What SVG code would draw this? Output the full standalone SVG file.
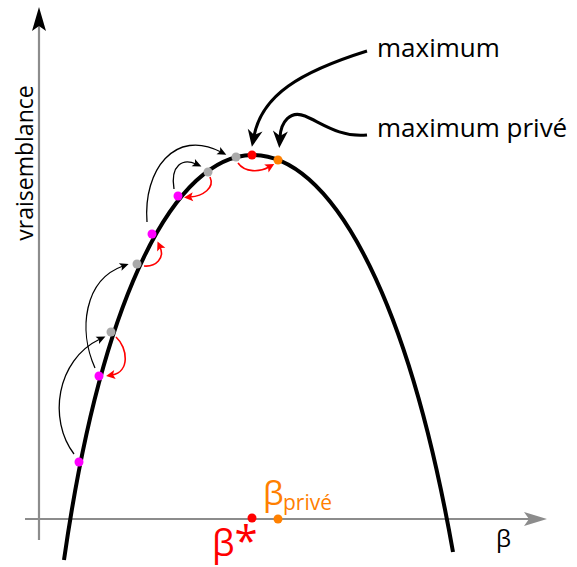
<svg xmlns="http://www.w3.org/2000/svg" width="577" height="567" viewBox="0 0 577 567">
<style>
.axis{stroke:#8c8c8c;stroke-width:2.2;fill:none}
.curve{stroke:#000;stroke-width:4;fill:none}
.hop{stroke:#000;stroke-width:1.3;fill:none;marker-end:url(#hb)}
.back{stroke:#f00;stroke-width:1.6;fill:none;marker-end:url(#hr)}
.lab{stroke:#000;stroke-width:3;fill:none;marker-end:url(#big)}
text{font-family:"Open Sans","DejaVu Sans",sans-serif}
.mag{fill:#f0f}
.gry{fill:#aaa}
</style>
<defs>
<marker id="hb" markerUnits="userSpaceOnUse" viewBox="-6 -5 14 10" markerWidth="14" markerHeight="10" refX="0" refY="0" orient="auto">
<path d="M6,0 L-3,-4 L-1,0 L-3,4 Z" fill="#000"/>
</marker>
<marker id="hr" markerUnits="userSpaceOnUse" viewBox="-6 -5 14 10" markerWidth="14" markerHeight="10" refX="0" refY="0" orient="auto">
<path d="M6,0 L-3,-4.5 L-1,0 L-3,4.5 Z" fill="#f00"/>
</marker>
<marker id="big" markerUnits="userSpaceOnUse" viewBox="-8 -9 22 18" markerWidth="22" markerHeight="18" refX="0" refY="0" orient="auto">
<path d="M11,0 L-6,-7.5 L-1,0 L-6,7.5 Z" fill="#000"/>
</marker>
</defs>
<g id="axes">
<line class="axis" x1="39" y1="540" x2="39" y2="26"/>
<path d="M39,7 L46,31 L39,26 L32,31 Z" fill="#000"/>
<line class="axis" x1="25" y1="519" x2="530" y2="519"/>
<path d="M547,519 L524,512 L529,519 L524,526 Z" fill="#8c8c8c"/>
</g>
<g id="curve">
<path class="curve" d="M64,560 C141,21.3 359,21.3 453,552"/>
</g>
<g id="connectors">
<path class="hop" d="M74,454 C48,420 56,360 100,339"/>
<path class="hop" d="M95,368 C78,330 84,280 123,266"/>
<path class="hop" d="M147,222 C143,170 175,128 221,152"/>
<path class="hop" d="M174,189 C170,165 183,158 196,164"/>
<path class="back" d="M116,337 C128,348 130,372 112,375"/>
<path class="back" d="M144,266 C156,267 165,258 160,247"/>
<path class="back" d="M210,177 C215,188 203,196 190,197"/>
<path class="back" d="M238,163 C245,173 260,172 269,167"/>
<path class="lab" d="M367,51 C300,72 262,95 254,136"/>
<path class="lab" d="M367,135 C340,138 320,122 305,116 C290,110 281,122 280,137"/>
</g>
<g id="points">
<circle class="mag" cx="79" cy="462" r="4.5"/>
<circle class="mag" cx="99" cy="376" r="4.5"/>
<circle class="gry" cx="111" cy="332" r="4.5"/>
<circle class="gry" cx="137" cy="264" r="4.5"/>
<circle class="mag" cx="152" cy="234" r="4.5"/>
<circle class="mag" cx="178" cy="196" r="4.5"/>
<circle class="gry" cx="208" cy="172" r="4.5"/>
<circle class="gry" cx="236" cy="157" r="4.5"/>
<circle cx="252" cy="155" r="4.5" fill="#f00"/>
<circle cx="278" cy="160" r="4.5" fill="#ff8000"/>
<circle cx="252" cy="518" r="4.5" fill="#f00"/>
<circle cx="278" cy="519" r="4.5" fill="#ff8000"/>
</g>
<g id="labels">
<text x="377" y="57" font-size="26" fill="#000">maximum</text>
<text x="377" y="137" font-size="26" fill="#000">maximum privé</text>
<text transform="translate(33,163) rotate(-90)" text-anchor="middle" font-size="23" fill="#000">vraisemblance</text>
<text x="496" y="547" font-size="24" fill="#000">β</text>
<text x="212" y="556" font-size="36" fill="#f00">β<tspan font-size="42">*</tspan></text>
<text x="263" y="505" font-size="33" fill="#ff8000">β<tspan x="283" y="510" font-size="21">privé</tspan></text>
</g>
</svg>
